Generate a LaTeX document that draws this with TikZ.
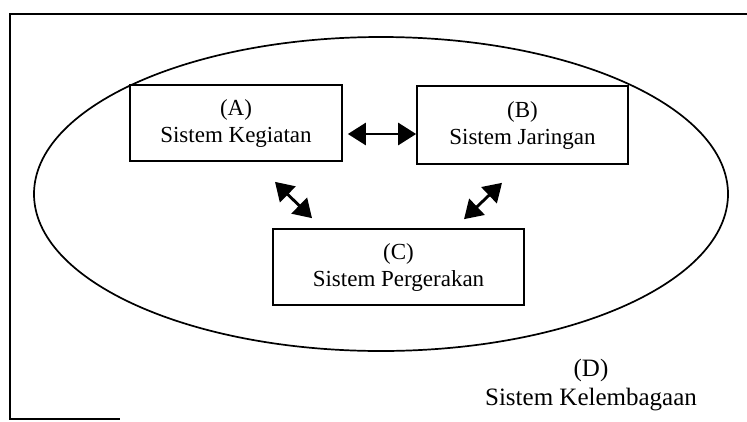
\documentclass[tikz,border=0pt]{standalone}
\usepackage{fontspec}
\setmainfont{Liberation Serif}
\usetikzlibrary{arrows.meta}
\tikzset{
	sistem/.style={draw, line width=0.6mm, align=center, inner sep=0pt, font=\fontsize{23}{27}\selectfont},
	duaarah/.style={line width=1mm, {Triangle[length=18pt,width=22pt]}-{Triangle[length=18pt,width=22pt]}}
}

\begin{document}
\begin{tikzpicture}[x=1pt, y=-1pt]
			%%%%% START %%%%%
			\useasboundingbox (0, 0) rectangle (747, 421);
			
			\draw[line width=0.6mm] (747, 14) -- (10, 14) -- (10, 419) -- (120, 419);
			
			\draw[line width=0.6mm] (381, 194) ellipse [x radius=347pt, y radius=157pt];
			
			\node[sistem, minimum width=212pt, minimum height=76pt] (A) at (236, 123) {(A)\\Sistem Kegiatan};
			\node[sistem, minimum width=211pt, minimum height=78pt] (B) at (522.5, 125) {(B)\\Sistem Jaringan};
			\node[sistem, minimum width=251pt, minimum height=76pt] (C) at (398.5, 267) {(C)\\Sistem Pergerakan};
			
			\node[align=center, font=\fontsize{25}{29}\selectfont] (D) at (591, 385) {(D)\\Sistem Kelembagaan};
			
			\coordinate (ab1) at ([xshift=5pt, yshift=-11pt]A.east);
			\coordinate (ab2) at (ab1 -| B.west);
			\coordinate (ac1) at ([shift={(39, 20)}]A.south);
			\coordinate (ac2) at ([shift={(-86.5, -10)}]C.north);
			\coordinate (bc1) at ([shift={(-20.5, 18)}]B.south);
			\coordinate (bc2) at ([shift={(65.5, -9)}]C.north);
			
			\draw[duaarah] (ab1) -- (ab2);
			\draw[duaarah] (ac1) -- (ac2);
			\draw[duaarah] (bc1) -- (bc2);
			
			%%%%% END %%%%%
\end{tikzpicture}
\end{document}
